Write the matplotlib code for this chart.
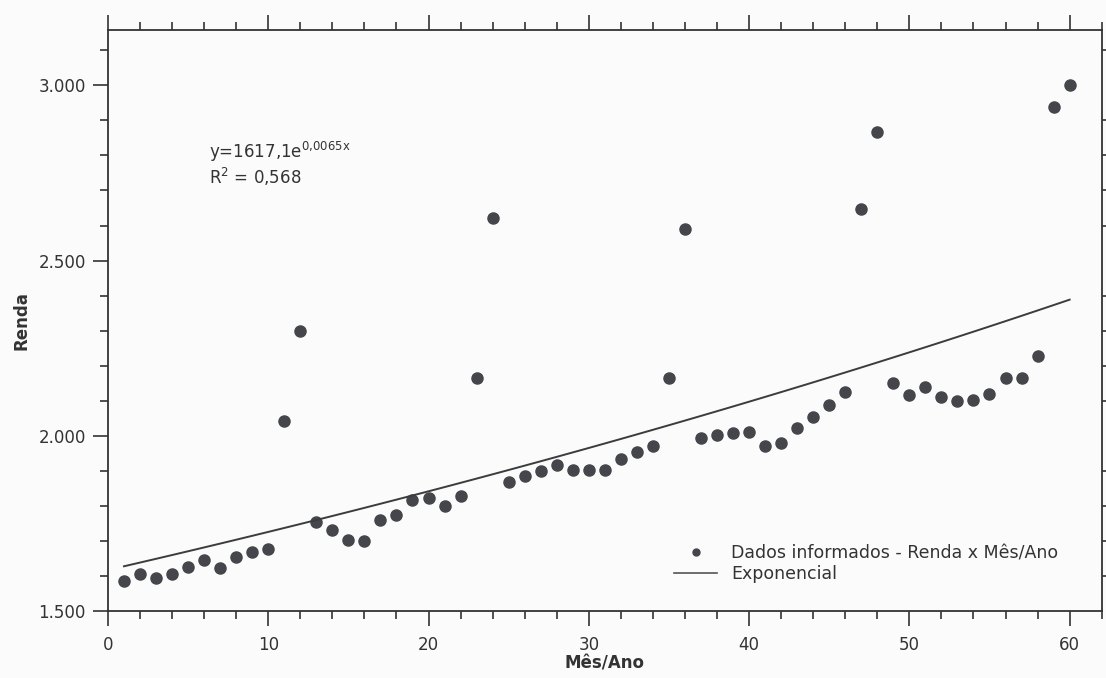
import numpy as np
import matplotlib
matplotlib.use("Agg")
import matplotlib.pyplot as plt
from matplotlib.ticker import MultipleLocator, FuncFormatter
from matplotlib.lines import Line2D

# months 1..60 and income
meses = list(range(1, 61))
renda = [1585, 1605, 1595, 1605, 1627, 1645, 1622, 1655, 1667, 1677,
         2043, 2300, 1753, 1731, 1703, 1699, 1759, 1773, 1817, 1822,
         1799, 1828, 2166, 2621, 1867, 1886, 1899, 1917, 1903, 1903,
         1903, 1935, 1954, 1971, 2166, 2589, 1994, 2002, 2008, 2012,
         1971, 1980, 2021, 2053, 2089, 2124, 2648, 2867, 2150, 2117,
         2140, 2112, 2099, 2103, 2118, 2164, 2164, 2228, 2937, 3001]

coef_a = 1617.1
coef_b = 0.0065
r2_text = "R$^{\\mathregular{2}}$ = 0,568"
eq_text = "y=1617,1e$^{\\mathregular{0{,}0065x}}$"

x = np.array(meses)
tendencia = coef_a * np.exp(coef_b * x)

plt.rcParams['font.family'] = ['DejaVu Sans']
fig = plt.figure(figsize=(11.06, 6.78), dpi=100, facecolor='#fbfbfb')
ax = fig.add_axes([0.0976, 0.0988, 0.8985, 0.857])
ax.set_facecolor('#fbfbfb')

ax.plot(x, renda, 'o', color='#45464c', markersize=8, linestyle='none')
ax.plot(x, tendencia, '-', color='#3c3c3c', linewidth=1.4)

ax.set_xlim(0, 62)
ax.set_ylim(1500, 3158)
ax.xaxis.set_major_locator(MultipleLocator(10))
ax.xaxis.set_minor_locator(MultipleLocator(2))
ax.yaxis.set_major_locator(MultipleLocator(500))
ax.yaxis.set_minor_locator(MultipleLocator(100))
ax.yaxis.set_major_formatter(FuncFormatter(lambda v, p: f"{int(v):,}".replace(",", ".")))

ax.tick_params(which='both', direction='out', colors='#333333', width=1.2,
               top=True, right=True, labelsize=12, labelcolor='#333333')
ax.tick_params(which='major', length=11, pad=5)
ax.tick_params(which='minor', length=6)
ax.tick_params(axis='x', which='major', pad=7)
ax.tick_params(axis='y', which='major', right=False)
for s in ax.spines.values():
    s.set_color('#333333')
    s.set_linewidth(1.3)

ax.set_xlabel('Mês/Ano', fontsize=12, fontweight='bold', color='#333333', labelpad=0)
ax.set_ylabel('Renda', fontsize=12, fontweight='bold', color='#333333', labelpad=6)

ax.text(0.102, 0.78, eq_text, transform=ax.transAxes, fontsize=12, color='#333333')
ax.text(0.102, 0.735, r2_text, transform=ax.transAxes, fontsize=12, color='#333333')

h1 = Line2D([], [], marker='o', color='#45464c', markersize=5, linestyle='none')
h2 = Line2D([], [], color='#555555', linewidth=1.2)
ax.legend([h1, h2], ['Dados informados - Renda x Mês/Ano', 'Exponencial'],
          loc='lower right', bbox_to_anchor=(0.972, 0.022), frameon=False,
          fontsize=12.5, handlelength=2.5, labelspacing=0.15, handletextpad=0.8,
          labelcolor='#333333')

fig.savefig('out.png', dpi=100, facecolor=fig.get_facecolor())
